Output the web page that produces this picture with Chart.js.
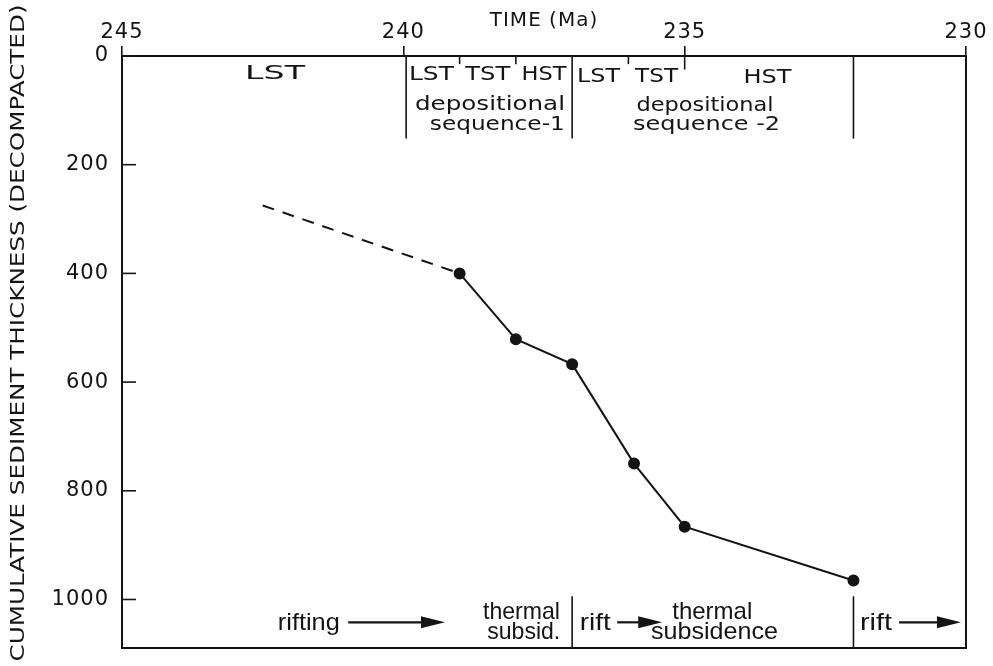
<!DOCTYPE html>
<html>
<head>
<meta charset="utf-8">
<script src="https://cdn.jsdelivr.net/npm/chart.js@4.4.1/dist/chart.umd.min.js"></script>
<style>
body{margin:0;background:#fff;}
#wrap{width:993px;height:666px;}
</style>
</head>
<body>
<div id="wrap"><canvas id="subsidenceChart" width="993" height="666"></canvas></div>
<script>

/* -------- DATA -------- */

// dated horizons: age (Ma) and cumulative decompacted thickness (m)
const ageMa = [239.0, 238.0, 237.0, 235.9, 235.0, 232.0];
const thicknessM = [400, 521, 567, 750, 866, 965];

// extrapolated older part of the curve (dashed)
const ageExtrap = [242.5, 239.0];
const thickExtrap = [275, 400];

const timeTicks = [245, 240, 235, 230];
const depthTicks = [0, 200, 400, 600, 800, 1000];

// sequence boundaries in the header, tract boundaries, tectonic regime boundaries
const seqBounds = [239.95, 237.0, 232.0];
const tractTicks = [239.0, 238.0, 236.0, 235.0];
const regimeBounds = [237.0, 232.0];

// header text: [text, age, depth of baseline, target width]
const headerLabels = [
["LST", 242.28, 42, 60],
["LST", 239.5, 44, 45],
["TST", 238.5, 44, 45],
["HST", 237.5, 44, 45],
["LST", 236.53, 48, 43],
["TST", 235.5, 48, 43],
["HST", 233.53, 49, 48],
["depositional", 238.46, 100, 150],
["sequence-1", 238.33, 136, 135],
["depositional", 234.64, 102, 137],
["sequence -2", 234.61, 136, 147]
];

// footer text
const footerLabels = [
["rifting", 241.68, 1057, 62],
["thermal", 237.90, 1035, 77],
["subsid.", 237.86, 1072, 73],
["rift", 236.59, 1057, 31],
["thermal", 234.51, 1035, 80],
["subsidence", 234.47, 1072, 127],
["rift", 231.60, 1057, 32]
];

// arrows: [from age, to age, depth]
const arrows = [
[240.98, 239.26, 1042],
[236.2, 235.4, 1042],
[231.19, 230.09, 1042]
];

const ink = "#141414";

Chart.defaults.font.family = "'DejaVu Sans', sans-serif";
Chart.defaults.color = ink;


/* -------- HELPERS -------- */

function stretchText(ctx, s, x, y, w){
const nat = ctx.measureText(s).width;
const k = w ? w / nat : 1;
ctx.save();
ctx.translate(x, y);
ctx.scale(k, 1);
ctx.textAlign = "center";
ctx.fillText(s, 0, 0);
ctx.restore();
}

function seg(ctx, x1, y1, x2, y2){
ctx.beginPath();
ctx.moveTo(x1, y1);
ctx.lineTo(x2, y2);
ctx.stroke();
}


/* -------- OVERLAY PLUGIN -------- */

const overlay = {
id:"overlay",
beforeDraw(chart){
chart.ctx.letterSpacing = "1px";
},
afterDraw(chart){
const ctx = chart.ctx;
const xs = chart.scales.x, ys = chart.scales.y;
const X = v => xs.getPixelForValue(v);
const Y = v => ys.getPixelForValue(v);

ctx.save();
ctx.letterSpacing = "0px";
ctx.strokeStyle = ink;
ctx.fillStyle = ink;
ctx.lineWidth = 1.6;

// inward ticks on the depth axis
ys.ticks.forEach(tk => {
seg(ctx, X(245), Y(tk.value), X(245) + 14, Y(tk.value));
});

// header boxes
seqBounds.forEach(t => seg(ctx, X(t), Y(0), X(t), Y(152)));
tractTicks.forEach(t => seg(ctx, X(t), Y(0), X(t), Y(t === 235 ? 25 : 15)));

// footer boxes
regimeBounds.forEach(t => seg(ctx, X(t), Y(994), X(t), Y(1090)));

// header text
ctx.font = "20px 'DejaVu Sans'";
ctx.textBaseline = "alphabetic";
headerLabels.forEach(l => stretchText(ctx, l[0], X(l[1]), Y(l[2]), l[3]));

// footer text
ctx.font = "24px 'Liberation Sans'";
footerLabels.forEach(l => stretchText(ctx, l[0], X(l[1]), Y(l[2]), l[3]));

// arrows
arrows.forEach(a => {
const x1 = X(a[0]), x2 = X(a[1]), y = Y(a[2]);
ctx.lineWidth = 2.2;
seg(ctx, x1, y, x2 - 18, y);
ctx.beginPath();
ctx.moveTo(x2, y);
ctx.lineTo(x2 - 24, y - 6);
ctx.lineTo(x2 - 24, y + 6);
ctx.closePath();
ctx.fill();
});

// depth axis title
ctx.font = "20px 'DejaVu Sans'";
ctx.textBaseline = "middle";
ctx.save();
ctx.translate(19, 333);
ctx.rotate(-Math.PI / 2);
stretchText(ctx, "CUMULATIVE SEDIMENT THICKNESS (DECOMPACTED)", 0, 0, 657);
ctx.restore();

ctx.restore();
}
};


/* -------- CHART -------- */

const ctx = document.getElementById("subsidenceChart").getContext("2d");

new Chart(ctx,{
type:"line",
data:{
datasets:[
{
label:"Subsidence",
data:ageMa.map((a,i)=>({x:a,y:thicknessM[i]})),
borderColor:ink,
borderWidth:2,
pointRadius:5,
pointBackgroundColor:ink,
pointBorderColor:ink,
tension:0,
fill:false
},
{
label:"Extrapolated",
data:ageExtrap.map((a,i)=>({x:a,y:thickExtrap[i]})),
borderColor:ink,
borderWidth:2,
borderDash:[12,9],
pointRadius:0,
tension:0,
fill:false
}
]
},
options:{
responsive:false,
animation:false,
plugins:{
legend:{display:false},
tooltip:{enabled:false}
},
scales:{
x:{
type:"linear",
position:"top",
reverse:true,
min:230,
max:245,
afterBuildTicks:s=>{ s.ticks = timeTicks.map(v=>({value:v})); },
afterFit:s=>{ s.height = 56; },
grid:{display:true,drawOnChartArea:false,drawTicks:true,tickLength:10,color:ink,lineWidth:1.6},
border:{display:true,color:ink,width:2},
ticks:{color:ink,font:{size:21},padding:1,maxRotation:0,autoSkip:false,callback:v=>String(v)},
title:{display:true,text:"TIME (Ma)",color:ink,font:{size:20},padding:{top:9,bottom:0}}
},
x2:{
type:"linear",
position:"bottom",
reverse:true,
min:230,
max:245,
afterFit:s=>{ s.height = 16; },
grid:{display:false},
ticks:{display:false},
border:{display:true,color:ink,width:2}
},
y:{
type:"linear",
position:"left",
reverse:true,
min:0,
max:1090,
afterBuildTicks:s=>{ s.ticks = depthTicks.map(v=>({value:v})); },
afterFit:s=>{ s.width = 122; },
grid:{display:false},
border:{display:true,color:ink,width:2},
ticks:{color:ink,font:{size:21},padding:5,callback:v=>String(v)}
},
y2:{
type:"linear",
position:"right",
min:0,
max:1090,
afterFit:s=>{ s.width = 27; },
grid:{display:false},
ticks:{display:false},
border:{display:true,color:ink,width:2}
}
}
},
plugins:[overlay]
});

</script>
</body>
</html>
